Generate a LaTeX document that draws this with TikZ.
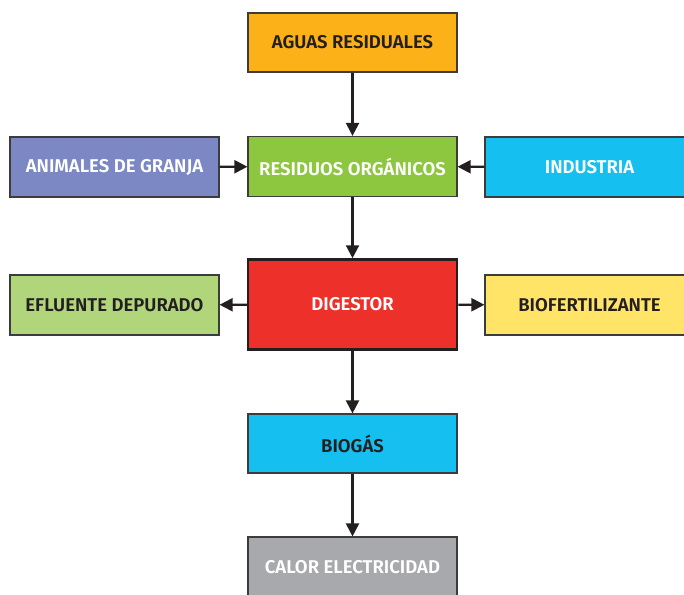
\documentclass[tikz,border=0pt]{standalone}
\usepackage{fontspec}
\setmainfont{Fira Sans}[BoldFont={Fira Sans SemiBold}]
\usetikzlibrary{arrows.meta}
\definecolor{cOrange}{HTML}{FBB117}
\definecolor{cGreen}{HTML}{8DC63F}
\definecolor{cPurple}{HTML}{7B88C4}
\definecolor{cCyan}{HTML}{15BFF0}
\definecolor{cRed}{HTML}{EE302A}
\definecolor{cLGreen}{HTML}{B1D57B}
\definecolor{cYellow}{HTML}{FFE468}
\definecolor{cGray}{HTML}{A7A9AC}
\definecolor{cDark}{HTML}{231F20}
\definecolor{cEdge}{HTML}{3C3C3C}
\tikzset{
  box/.style={draw=cEdge, line width=1.2pt, minimum width=209pt, minimum height=59pt,
    inner sep=0pt, font=\bfseries\fontsize{18.5}{22}\selectfont, text=cDark},
  wtext/.style={text=white},
  arr/.style={draw=cDark, line width=2.2pt, -{Triangle[width=13pt,length=13pt]}},
}
\begin{document}
\begin{tikzpicture}[x=1pt,y=-1pt]
\useasboundingbox (0,0) rectangle (684,594);
\node[box, fill=cOrange] (agua) at (352.5,42.5) {AGUAS RESIDUALES};
\node[box, fill=cGreen, wtext, minimum height=60pt] (resi) at (352.5,166.5) {RESIDUOS ORGÁNICOS};
\node[box, fill=cPurple, wtext, minimum height=60pt] (anim) at (114.5,167) {ANIMALES DE GRANJA};
\node[box, fill=cCyan, wtext, minimum height=60pt] (indu) at (589.5,167) {INDUSTRIA};
\node[box, fill=cRed, wtext, draw=cDark, line width=2.5pt, minimum height=90pt] (dige) at (352.5,304.5) {DIGESTOR};
\node[box, fill=cLGreen, minimum height=60pt] (eflu) at (114.5,305) {EFLUENTE DEPURADO};
\node[box, fill=cYellow, minimum height=60pt] (biof) at (589.5,305) {BIOFERTILIZANTE};
\node[box, fill=cCyan] (biog) at (352.5,443.5) {BIOGÁS};
\node[box, fill=cGray, wtext, minimum height=60pt] (calo) at (352.5,567) {CALOR ELECTRICIDAD};
\draw[arr] (agua) -- (resi);
\draw[arr] (anim) -- (resi);
\draw[arr] (indu) -- (resi);
\draw[arr] (resi) -- (dige);
\draw[arr] (dige) -- (eflu);
\draw[arr] (dige) -- (biof);
\draw[arr] (dige) -- (biog);
\draw[arr] (biog) -- (calo);
\end{tikzpicture}
\end{document}
